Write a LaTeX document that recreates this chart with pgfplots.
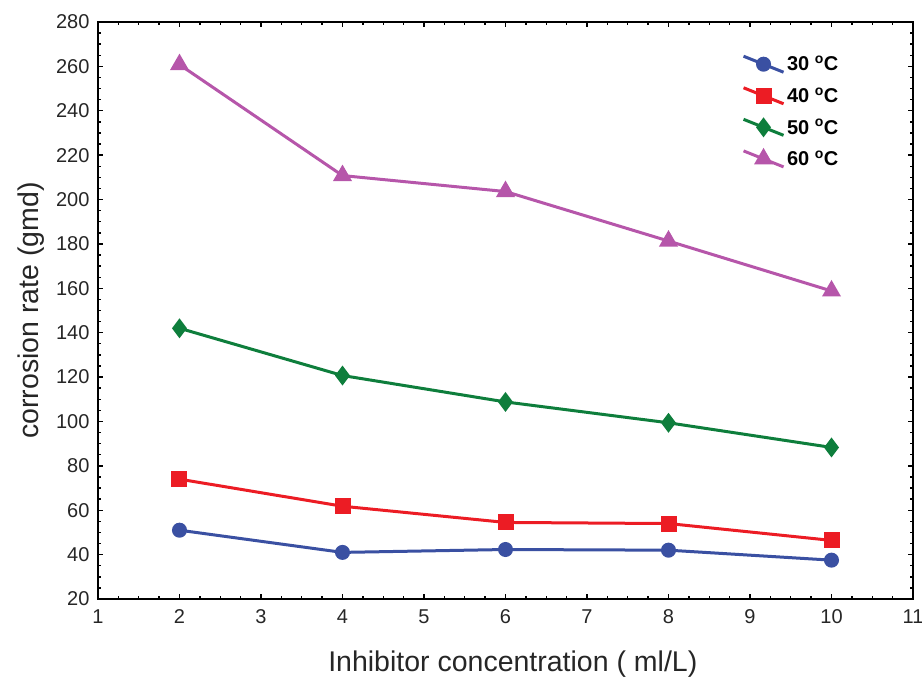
\documentclass[border=0pt]{standalone}
\usepackage{pgfplots}
\pgfplotsset{compat=1.18}
\usepackage{fontspec}
\setmainfont{Liberation Sans}
\definecolor{c30}{RGB}{58,80,162}
\definecolor{c40}{RGB}{236,28,36}
\definecolor{c50}{RGB}{14,126,60}
\definecolor{c60}{RGB}{182,86,170}
\begin{document}
\begin{tikzpicture}
\begin{axis}[
  width=815pt, height=577pt, scale only axis,
  xmin=1, xmax=11, ymin=20, ymax=280,
  xtick={1,...,11}, ytick={20,40,...,280},
  minor x tick num=3, minor y tick num=3,
  tick align=inside,
  major tick length=5pt, minor tick length=3pt,
  axis line style={line width=1.6pt},
  every tick/.style={line width=1.4pt, black},
  /pgf/number format/assume math mode=true,
  tick label style={font=\fontsize{20}{23}\selectfont, text=black!85},
  xticklabel style={yshift=-7pt},
  yticklabel style={xshift=-5pt},
  label style={font=\fontsize{28.5}{32}\selectfont, text=black!85},
  xlabel={Inhibitor concentration ( ml/L)},
  ylabel={corrosion rate (gmd)},
  xlabel style={at={(axis description cs:0.509,-0.126)}, anchor=base},
  ylabel style={at={(axis description cs:-0.0736,0.5)}, anchor=base},
  legend style={draw=none, fill=none, at={(0.79,0.945)}, anchor=north west,
    font=\fontsize{20}{23}\selectfont\bfseries, row sep=11pt,
    legend cell align=left, inner sep=0pt},
  legend image code/.code={\draw[mark repeat=2,mark phase=2,#1] plot coordinates {(0pt,8pt)(20pt,0pt)(40pt,-8pt)};},
  every axis plot/.append style={line width=3pt},
]
\addplot[color=c30, mark=*, mark size=6pt, mark options={solid}] coordinates {
  (2,51) (4,41) (6,42.3) (8,42) (10,37.5)
};
\addlegendentry{30 \textsuperscript{o}C}
\addplot[color=c40, mark=square*, mark size=6.5pt, mark options={solid}] coordinates {
  (2,74) (4,61.8) (6,54.5) (8,54) (10,46.4)
};
\addlegendentry{40 \textsuperscript{o}C}
\addplot[color=c50, mark=diamond*, mark size=7.5pt, mark options={solid}] coordinates {
  (2,142) (4,120.7) (6,108.8) (8,99.4) (10,88.3)
};
\addlegendentry{50 \textsuperscript{o}C}
\addplot[color=c60, mark=triangle*, mark size=8pt, mark options={solid}] coordinates {
  (2,260.8) (4,210.8) (6,203.6) (8,181.3) (10,158.8)
};
\addlegendentry{60 \textsuperscript{o}C}
\end{axis}
\pgfresetboundingbox
\useasboundingbox (-98pt,-82pt) rectangle (824pt,599pt);
\end{tikzpicture}
\end{document}
